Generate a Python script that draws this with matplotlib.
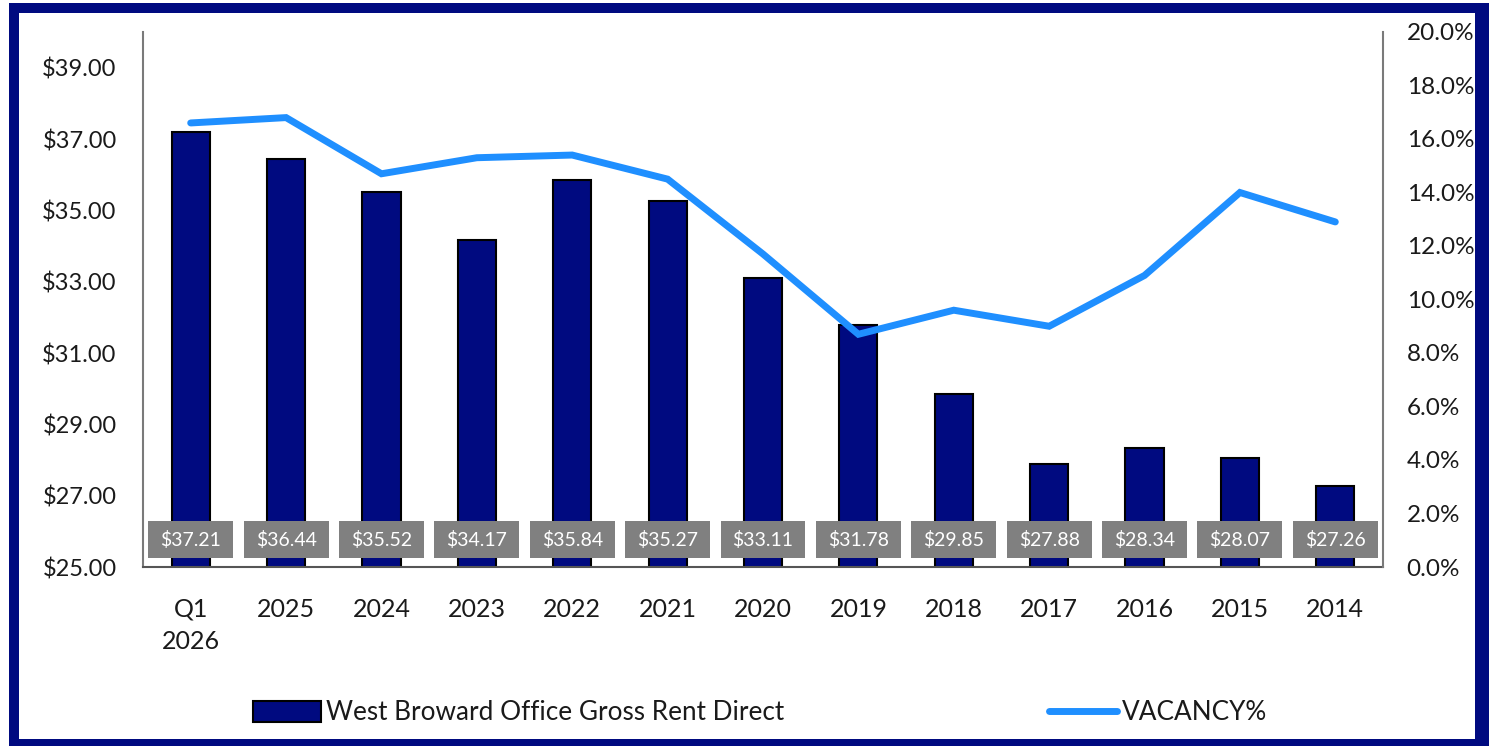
import matplotlib
matplotlib.use("Agg")
import matplotlib.pyplot as plt
from matplotlib.patches import Rectangle, Patch
from matplotlib.lines import Line2D
from matplotlib.ticker import FixedLocator, FuncFormatter
import numpy as np

# ---- data -------------------------------------------------------------
periods = ["Q1\n2026", "2025", "2024", "2023", "2022", "2021", "2020",
           "2019", "2018", "2017", "2016", "2015", "2014"]
gross_rent = [37.21, 36.44, 35.52, 34.17, 35.84, 35.27, 33.11,
              31.78, 29.85, 27.88, 28.34, 28.07, 27.26]
vacancy_pct = [16.6, 16.8, 14.7, 15.3, 15.4, 14.5, 11.7,
               8.7, 9.6, 9.0, 10.9, 14.0, 12.9]
rent_ticks = [25, 27, 29, 31, 33, 35, 37, 39]
vacancy_ticks = [0, 2, 4, 6, 8, 10, 12, 14, 16, 18, 20]
rent_label = "West Broward Office Gross Rent Direct"
vacancy_label = "VACANCY%"

# ---- style ------------------------------------------------------------
NAVY = "#000a80"
LINE_BLUE = "#1f8fff"
LABEL_GRAY = "#808080"
TEXT = "#1a1a1a"

plt.rcParams["font.family"] = ["Lato", "DejaVu Sans"]

W, H = 1489, 746
fig = plt.figure(figsize=(W / 100, H / 100), dpi=100)
fig.patch.set_facecolor("white")


def px_box(x0, y0, x1, y1):
    """Pixel box (top-left origin) -> figure-fraction rectangle."""
    return (x0 / W, 1 - y1 / H, (x1 - x0) / W, (y1 - y0) / H)


ax = fig.add_axes(px_box(143, 32, 1383, 567))
x = np.arange(len(periods))

ax.bar(x, gross_rent, width=0.4, color=NAVY, edgecolor="black",
       linewidth=1.5, zorder=2)
ax.set_xlim(-0.5, len(periods) - 0.5)
ax.set_ylim(25, 40)
ax.yaxis.set_major_locator(FixedLocator(rent_ticks))
ax.yaxis.set_major_formatter(FuncFormatter(lambda v, _: f"${v:.2f}"))
ax.set_xticks(x)
ax.set_xticklabels(periods)
for lab in ax.get_xticklabels():
    lab.set_linespacing(1.5)

ax.tick_params(axis="y", length=0, pad=19, labelsize=17, colors=TEXT)
ax.tick_params(axis="x", length=0, pad=22, labelsize=18, colors=TEXT)
ax.spines["top"].set_visible(False)
ax.spines["right"].set_visible(False)
ax.spines["left"].set_color("#7a7a7a")
ax.spines["left"].set_linewidth(1.5)
ax.spines["bottom"].set_color("#555555")
ax.spines["bottom"].set_linewidth(1.5)

# value labels: grey boxes sitting near the base of each bar
for xi, v in zip(x, gross_rent):
    ax.add_patch(Rectangle((xi - 0.445, 25.25), 0.89, 1.04,
                           facecolor=LABEL_GRAY, edgecolor="none", zorder=3))
    ax.text(xi, 25.77, f"${v:.2f}", ha="center", va="center",
            color="white", fontsize=14, zorder=4)

# vacancy line on the secondary axis
ax2 = ax.twinx()
ax2.plot(x, vacancy_pct, color=LINE_BLUE, linewidth=5,
         solid_capstyle="round", solid_joinstyle="miter", zorder=5)
ax2.set_ylim(0, 20)
ax2.yaxis.set_major_locator(FixedLocator(vacancy_ticks))
ax2.yaxis.set_major_formatter(FuncFormatter(lambda v, _: f"{v:.1f}%"))
ax2.tick_params(axis="y", length=0, pad=17, labelsize=17.5, colors=TEXT)
for side in ("top", "left", "bottom"):
    ax2.spines[side].set_visible(False)
ax2.spines["right"].set_color("#7a7a7a")
ax2.spines["right"].set_linewidth(1.5)

# legend entries laid out along the bottom
leg1 = fig.legend(
    handles=[Patch(facecolor=NAVY, edgecolor="black", linewidth=1.5,
                   label=rent_label)],
    loc="center left", bbox_to_anchor=(253 / W, 1 - 713 / H),
    frameon=False, fontsize=18.8, handlelength=2.6, handleheight=0.85,
    handletextpad=0.2, borderaxespad=0, borderpad=0)
leg2 = fig.legend(
    handles=[Line2D([0], [0], color=LINE_BLUE, linewidth=5,
                    solid_capstyle="round", label=vacancy_label)],
    loc="center left", bbox_to_anchor=(1049 / W, 1 - 713 / H),
    frameon=False, fontsize=18.8, handlelength=2.6,
    handletextpad=0.2, borderaxespad=0, borderpad=0)
for leg in (leg1, leg2):
    for t in leg.get_texts():
        t.set_color(TEXT)

# navy frame around the whole chart
for box in [(9, 3, 1489, 13), (9, 3, 19, 746),
            (1475, 3, 1489, 746), (9, 739, 1489, 746)]:
    fx, fy, fw, fh = px_box(*box)
    fig.add_artist(Rectangle((fx, fy), fw, fh, transform=fig.transFigure,
                             facecolor=NAVY, edgecolor="none", zorder=20))

fig.savefig("out.png", dpi=100, facecolor="white")
